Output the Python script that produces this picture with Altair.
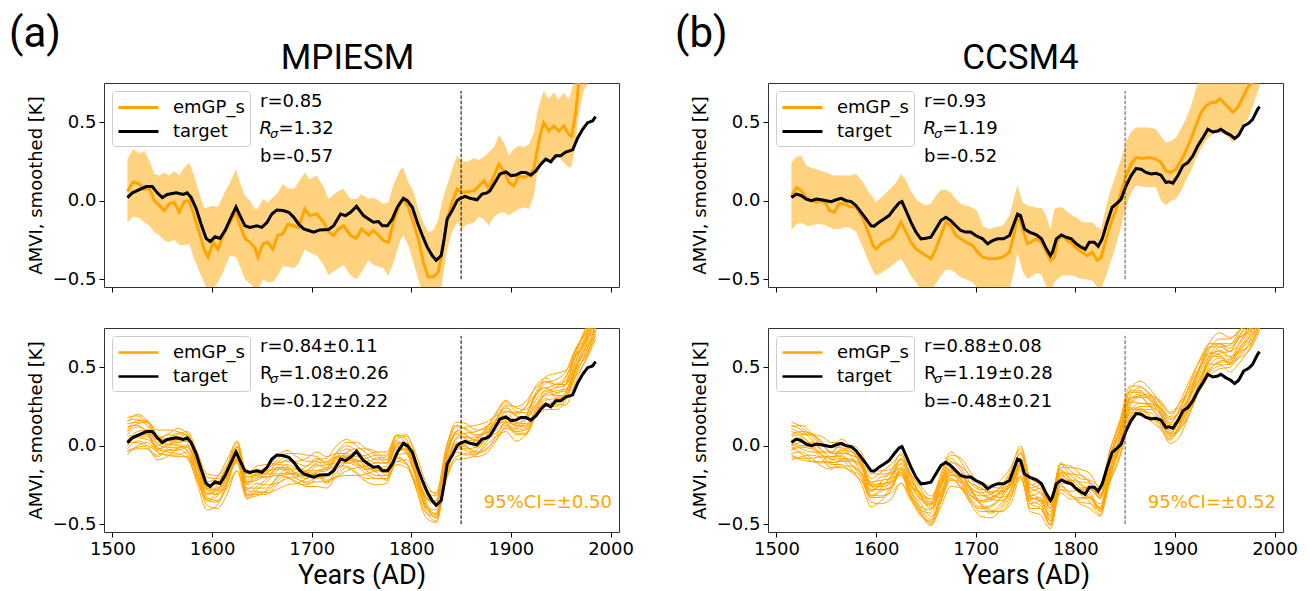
import altair as alt
import pandas as pd

# ---------------- axes / labels ----------------
XTICKS = [1500, 1600, 1700, 1800, 1900, 2000]
YTICKS = [-0.5, 0.0, 0.5]
XDOM = [1491.5, 2008.5]
YDOM = [-0.55, 0.75]
SERIES = ["emGP_s", "target"]
TITLES = ["MPIESM", "CCSM4"]
LETTERS = ["(a)", "(b)"]
VLINE_YEAR = [1850]
VLINE_LOW = [-0.5]
VLINE_HIGH = [0.7]

ORANGE = "#FFA500"

# ---------------- MPIESM target ----------------
mpi_tgt_yr = [
    1515, 1520, 1527, 1534, 1540, 1545, 1550, 1555, 1564, 1571,
    1575, 1579, 1584, 1589, 1594, 1598, 1603, 1608, 1613, 1618,
    1624, 1628, 1633, 1638, 1645, 1650, 1655, 1660, 1665, 1671,
    1677, 1682, 1687, 1692, 1697, 1702, 1708, 1717, 1722, 1729,
    1734, 1739, 1745, 1752, 1757, 1762, 1767, 1771, 1776, 1781,
    1786, 1792, 1796, 1801, 1806, 1811, 1816, 1821, 1825, 1830,
    1833, 1836, 1841, 1846, 1849, 1854, 1859, 1866, 1871, 1876,
    1879, 1884, 1889, 1895, 1900, 1905, 1910, 1915, 1920, 1925,
    1930, 1935, 1940, 1945, 1950, 1955, 1962, 1967, 1972, 1977,
    1982, 1985]
mpi_tgt_v = [
    0.02, 0.05, 0.07, 0.09, 0.09, 0.05, 0.02, 0.04, 0.05, 0.04,
    0.05, 0.02, -0.05, -0.15, -0.24, -0.26, -0.23, -0.24, -0.19, -0.12,
    -0.04, -0.095, -0.16, -0.17, -0.16, -0.17, -0.14, -0.085, -0.06, -0.063,
    -0.074, -0.106, -0.15, -0.18, -0.19, -0.2, -0.186, -0.184, -0.16, -0.085,
    -0.095, -0.074, -0.036, -0.095, -0.116, -0.137, -0.133, -0.16, -0.16, -0.116,
    -0.042, 0.015, 0.0, -0.042, -0.137, -0.22, -0.296, -0.35, -0.38, -0.35,
    -0.243, -0.116, -0.063, 0.0, 0.015, 0.028, 0.015, 0.006, 0.042, 0.05,
    0.063, 0.116, 0.17, 0.184, 0.16, 0.163, 0.18, 0.18, 0.163, 0.19,
    0.233, 0.265, 0.248, 0.286, 0.286, 0.31, 0.324, 0.4, 0.455, 0.497,
    0.508, 0.535]

# ---------------- MPIESM emulator mean and 95% band ----------------
mpi_emu_yr = [
    1515, 1521, 1527, 1532, 1537, 1542, 1547, 1552, 1557, 1562,
    1567, 1572, 1577, 1582, 1587, 1592, 1596, 1601, 1606, 1611,
    1618, 1624, 1628, 1633, 1638, 1643, 1646, 1651, 1656, 1661,
    1666, 1671, 1676, 1682, 1687, 1693, 1698, 1705, 1712, 1717,
    1722, 1727, 1732, 1739, 1745, 1750, 1757, 1762, 1767, 1772,
    1777, 1782, 1789, 1792, 1797, 1802, 1807, 1812, 1817, 1822,
    1827, 1831, 1836, 1841, 1846, 1851, 1856, 1863, 1868, 1873,
    1878, 1883, 1888, 1893, 1898, 1903, 1908, 1913, 1918, 1923,
    1926, 1930, 1933, 1938, 1943, 1948, 1953, 1958, 1961, 1965,
    1968, 1973, 1979, 1985]
mpi_emu_mean = [
    0.06, 0.12, 0.106, 0.074, 0.078, 0.0, -0.03, -0.063, -0.02, -0.01,
    -0.074, -0.006, 0.0, -0.095, -0.2, -0.31, -0.36, -0.265, -0.31, -0.22,
    -0.137, -0.074, -0.16, -0.24, -0.265, -0.3, -0.36, -0.275, -0.265, -0.31,
    -0.22, -0.21, -0.15, -0.16, -0.17, -0.053, -0.095, -0.085, -0.137, -0.2,
    -0.22, -0.18, -0.16, -0.22, -0.24, -0.18, -0.22, -0.19, -0.22, -0.254,
    -0.265, -0.137, -0.01, 0.01, -0.042, -0.137, -0.243, -0.39, -0.487, -0.487,
    -0.455, -0.33, -0.116, -0.01, 0.074, 0.053, 0.057, 0.063, 0.095, 0.127,
    0.074, 0.16, 0.233, 0.19, 0.116, 0.095, 0.16, 0.148, 0.16, 0.2,
    0.307, 0.434, 0.497, 0.444, 0.476, 0.444, 0.476, 0.423, 0.41, 0.56,
    0.75, 0.9, 1.0, 1.1]
mpi_emu_hi = [
    0.265, 0.33, 0.30, 0.32, 0.254, 0.17, 0.16, 0.18, 0.16, 0.19,
    0.16, 0.21, 0.243, 0.16, 0.053, -0.05, -0.04, -0.032, -0.04, 0.032,
    0.116, 0.2, 0.116, 0.032, 0.0, -0.053, -0.05, 0.01, -0.01, 0.02,
    0.053, 0.106, 0.08, 0.074, 0.12, 0.18, 0.137, 0.16, 0.085, 0.01,
    0.04, 0.063, 0.074, 0.01, 0.01, 0.042, 0.01, 0.02, 0.0, -0.02,
    -0.01, 0.1, 0.2, 0.21, 0.116, 0.063, -0.053, -0.137, -0.2, -0.19,
    -0.12, 0.0, 0.1, 0.2, 0.29, 0.25, 0.25, 0.27, 0.26, 0.28,
    0.31, 0.34, 0.42, 0.37, 0.29, 0.33, 0.35, 0.34, 0.36, 0.43,
    0.55, 0.645, 0.7, 0.65, 0.69, 0.645, 0.69, 0.645, 0.7, 0.85,
    0.95, 1.1, 1.2, 1.3]
mpi_emu_lo = [
    -0.137, -0.1, -0.11, -0.137, -0.16, -0.2, -0.22, -0.254, -0.265, -0.25,
    -0.28, -0.285, -0.275, -0.37, -0.45, -0.52, -0.58, -0.56, -0.52, -0.455,
    -0.35, -0.36, -0.42, -0.5, -0.53, -0.56, -0.58, -0.5, -0.52, -0.52,
    -0.476, -0.42, -0.42, -0.43, -0.4, -0.31, -0.33, -0.35, -0.41, -0.476,
    -0.45, -0.43, -0.41, -0.476, -0.5, -0.455, -0.38, -0.41, -0.42, -0.43,
    -0.476, -0.4, -0.25, -0.22, -0.285, -0.39, -0.5, -0.6, -0.7, -0.7,
    -0.65, -0.52, -0.31, -0.2, -0.137, -0.18, -0.15, -0.14, -0.1, -0.12,
    -0.16, -0.1, -0.08, -0.074, -0.095, -0.07, -0.053, -0.042, -0.053, 0.03,
    0.16, 0.23, 0.265, 0.243, 0.265, 0.275, 0.243, 0.21, 0.22, 0.37,
    0.55, 0.7, 0.76, 0.75]

# ---------------- CCSM4 target ----------------
ccsm_tgt_yr = [
    1515, 1520, 1525, 1530, 1535, 1540, 1545, 1550, 1555, 1560,
    1565, 1570, 1575, 1580, 1585, 1590, 1595, 1598, 1603, 1608,
    1613, 1618, 1623, 1626, 1630, 1635, 1640, 1645, 1650, 1655,
    1660, 1665, 1670, 1675, 1680, 1685, 1690, 1695, 1700, 1707,
    1712, 1717, 1722, 1728, 1734, 1739, 1742, 1745, 1749, 1754,
    1761, 1766, 1771, 1775, 1777, 1781, 1786, 1791, 1796, 1801,
    1806, 1810, 1814, 1819, 1823, 1827, 1832, 1837, 1842, 1846,
    1851, 1856, 1861, 1866, 1871, 1876, 1881, 1886, 1891, 1894,
    1898, 1903, 1908, 1913, 1918, 1923, 1928, 1933, 1938, 1943,
    1946, 1951, 1956, 1960, 1964, 1969, 1974, 1978, 1983, 1985]
ccsm_tgt_v = [
    0.021, 0.042, 0.032, 0.01, 0.0, 0.01, 0.006, 0.0, -0.006, 0.006,
    0.015, 0.0, -0.006, -0.032, -0.074, -0.116, -0.16, -0.163, -0.137, -0.116,
    -0.095, -0.053, -0.015, -0.006, -0.063, -0.137, -0.2, -0.243, -0.239, -0.233,
    -0.18, -0.127, -0.106, -0.127, -0.16, -0.19, -0.2, -0.2, -0.222, -0.243,
    -0.275, -0.254, -0.243, -0.243, -0.222, -0.137, -0.085, -0.095, -0.18, -0.2,
    -0.218, -0.243, -0.307, -0.35, -0.328, -0.243, -0.218, -0.233, -0.243, -0.275,
    -0.296, -0.31, -0.265, -0.265, -0.29, -0.243, -0.137, -0.042, -0.015, 0.01,
    0.095, 0.16, 0.205, 0.2, 0.18, 0.17, 0.175, 0.163, 0.116, 0.12,
    0.112, 0.16, 0.222, 0.243, 0.286, 0.35, 0.4, 0.455, 0.438, 0.444,
    0.455, 0.434, 0.417, 0.396, 0.417, 0.476, 0.493, 0.518, 0.582, 0.6]

# ---------------- CCSM4 emulator mean and 95% band ----------------
ccsm_emu_yr = [
    1515, 1520, 1525, 1530, 1535, 1540, 1545, 1550, 1553, 1558,
    1563, 1568, 1573, 1580, 1587, 1592, 1597, 1600, 1605, 1610,
    1615, 1620, 1625, 1630, 1635, 1640, 1645, 1650, 1655, 1660,
    1665, 1670, 1675, 1680, 1685, 1690, 1697, 1702, 1707, 1713,
    1720, 1727, 1734, 1739, 1742, 1747, 1752, 1761, 1766, 1771,
    1775, 1779, 1782, 1787, 1792, 1797, 1802, 1807, 1812, 1817,
    1822, 1826, 1831, 1836, 1841, 1846, 1851, 1856, 1861, 1867,
    1874, 1881, 1886, 1891, 1896, 1901, 1906, 1911, 1916, 1921,
    1926, 1931, 1936, 1941, 1945, 1949, 1954, 1958, 1963, 1968,
    1973, 1977, 1985]
ccsm_emu_mean = [
    0.028, 0.085, 0.063, 0.02, 0.0, -0.01, 0.0, -0.02, -0.063, -0.074,
    -0.02, -0.02, -0.036, -0.042, -0.116, -0.2, -0.285, -0.307, -0.275, -0.254,
    -0.243, -0.2, -0.137, -0.2, -0.265, -0.307, -0.328, -0.35, -0.37, -0.307,
    -0.222, -0.137, -0.16, -0.222, -0.243, -0.265, -0.285, -0.328, -0.36, -0.37,
    -0.37, -0.36, -0.328, -0.2, -0.085, -0.18, -0.275, -0.243, -0.265, -0.328,
    -0.38, -0.36, -0.254, -0.222, -0.254, -0.275, -0.307, -0.328, -0.35, -0.328,
    -0.38, -0.36, -0.243, -0.137, -0.053, 0.053, 0.16, 0.233, 0.275, 0.269,
    0.275, 0.265, 0.243, 0.19, 0.18, 0.2, 0.254, 0.317, 0.39, 0.476,
    0.56, 0.603, 0.624, 0.628, 0.65, 0.624, 0.593, 0.565, 0.593, 0.656,
    0.72, 0.75, 0.82]
ccsm_emu_hi = [
    0.243, 0.28, 0.286, 0.222, 0.21, 0.2, 0.19, 0.18, 0.17, 0.16,
    0.16, 0.16, 0.16, 0.17, 0.116, 0.06, 0.02, -0.01, 0.02, 0.05,
    0.08, 0.116, 0.17, 0.13, 0.06, 0.01, -0.015, -0.03, -0.02, 0.032,
    0.07, 0.07, 0.05, 0.01, -0.02, -0.03, -0.045, -0.07, -0.16, -0.18,
    -0.17, -0.16, -0.095, 0.03, 0.1, -0.01, -0.03, -0.045, -0.045, -0.1,
    -0.18, -0.053, -0.045, -0.042, -0.07, -0.095, -0.11, -0.137, -0.137, -0.137,
    -0.17, -0.18, -0.032, 0.08, 0.17, 0.265, 0.38, 0.44, 0.466, 0.466,
    0.466, 0.455, 0.41, 0.37, 0.38, 0.4, 0.46, 0.52, 0.6, 0.71,
    0.8, 0.85, 0.86, 0.86, 0.87, 0.85, 0.82, 0.8, 0.83, 0.9,
    0.95, 1.0, 1.05]
ccsm_emu_lo = [
    -0.19, -0.15, -0.14, -0.16, -0.16, -0.15, -0.15, -0.16, -0.17, -0.18,
    -0.18, -0.17, -0.17, -0.2, -0.3, -0.38, -0.45, -0.476, -0.46, -0.44,
    -0.42, -0.39, -0.37, -0.42, -0.48, -0.52, -0.57, -0.58, -0.58, -0.53,
    -0.48, -0.44, -0.44, -0.46, -0.49, -0.5, -0.52, -0.56, -0.6, -0.62,
    -0.62, -0.6, -0.57, -0.43, -0.33, -0.45, -0.5, -0.46, -0.47, -0.55,
    -0.6, -0.52, -0.5, -0.476, -0.476, -0.476, -0.49, -0.5, -0.5, -0.508,
    -0.55, -0.56, -0.476, -0.38, -0.28, -0.16, -0.04, 0.05, 0.095, 0.09,
    0.085, 0.085, 0.0, -0.03, 0.0, 0.01, 0.06, 0.13, 0.19, 0.265,
    0.33, 0.38, 0.413, 0.434, 0.43, 0.423, 0.4, 0.37, 0.42, 0.48,
    0.52, 0.58, 0.73]

# ---------------- ensemble members (bottom panels) ----------------
ens_yr = [1515, 1525, 1535, 1545, 1555, 1565, 1575, 1585, 1595, 1605,
          1615, 1625, 1635, 1645, 1655, 1665, 1675, 1685, 1695, 1705,
          1715, 1725, 1735, 1745, 1755, 1765, 1775, 1785, 1795, 1805,
          1815, 1825, 1835, 1845, 1855, 1865, 1875, 1885, 1895, 1905,
          1915, 1925, 1935, 1945, 1955, 1965, 1975, 1985]
# centre of the ensemble bundle
mpi_ens_centre = [0.06, 0.09, 0.07, 0.0, 0.01, 0.03, 0.02, -0.14, -0.3, -0.29,
                  -0.19, -0.06, -0.25, -0.22, -0.2, -0.16, -0.14, -0.16, -0.16, -0.14,
                  -0.16, -0.11, -0.08, -0.09, -0.11, -0.12, -0.14, -0.02, -0.03, -0.17,
                  -0.34, -0.39, -0.12, 0.03, 0.03, 0.02, 0.06, 0.13, 0.19, 0.15,
                  0.17, 0.28, 0.35, 0.34, 0.37, 0.53, 0.65, 0.8]
ccsm_ens_centre = [0.03, 0.02, -0.01, -0.04, -0.07, -0.04, -0.07, -0.14, -0.28, -0.26,
                   -0.22, -0.14, -0.26, -0.35, -0.4, -0.27, -0.15, -0.19, -0.27, -0.33,
                   -0.35, -0.33, -0.26, -0.11, -0.3, -0.31, -0.43, -0.2, -0.23, -0.26,
                   -0.28, -0.35, -0.13, 0.05, 0.27, 0.3, 0.27, 0.21, 0.115, 0.18,
                   0.31, 0.45, 0.57, 0.6, 0.58, 0.65, 0.72, 0.85]
# spread of each member about that centre, read from the bundles
ens_dev = [
    [0.10, 0.08, 0.05, 0.02, 0.00, -0.03, -0.05, -0.06, -0.04, -0.01, 0.03, 0.06, 0.08, 0.07, 0.04, 0.01,
     -0.02, -0.05, -0.07, -0.06, -0.03, 0.00, 0.04, 0.07, 0.09, 0.08, 0.05, 0.02, -0.01, -0.04, -0.06, -0.05,
     -0.02, 0.02, 0.05, 0.07, 0.06, 0.03, 0.00, -0.03, -0.05, -0.04, -0.01, 0.03, 0.06, 0.08, 0.07, 0.05],
    [-0.08, -0.06, -0.07, -0.09, -0.08, -0.05, -0.02, 0.01, 0.03, 0.02, -0.01, -0.04, -0.06, -0.08, -0.09, -0.07,
     -0.04, -0.02, 0.00, 0.02, 0.01, -0.02, -0.05, -0.08, -0.10, -0.09, -0.07, -0.06, -0.08, -0.10, -0.09, -0.06,
     -0.03, -0.01, -0.03, -0.06, -0.08, -0.09, -0.07, -0.05, -0.06, -0.08, -0.10, -0.09, -0.06, -0.04, -0.05, -0.07],
    [0.03, 0.05, 0.08, 0.10, 0.09, 0.06, 0.04, 0.05, 0.07, 0.09, 0.10, 0.08, 0.05, 0.03, 0.04, 0.07,
     0.09, 0.11, 0.10, 0.07, 0.05, 0.06, 0.08, 0.06, 0.03, 0.01, 0.03, 0.06, 0.09, 0.11, 0.10, 0.08,
     0.06, 0.04, 0.02, 0.03, 0.05, 0.08, 0.10, 0.09, 0.06, 0.04, 0.05, 0.08, 0.10, 0.09, 0.06, 0.04],
    [-0.02, -0.04, -0.03, 0.00, 0.03, 0.05, 0.04, 0.01, -0.03, -0.06, -0.08, -0.10, -0.09, -0.06, -0.03, 0.00,
     0.02, 0.01, -0.01, -0.04, -0.07, -0.09, -0.08, -0.05, -0.02, 0.01, 0.03, 0.04, 0.02, -0.01, -0.04, -0.07,
     -0.09, -0.10, -0.08, -0.05, -0.02, 0.00, 0.02, 0.00, -0.03, -0.06, -0.08, -0.07, -0.04, -0.02, -0.03, -0.05],
    [0.06, 0.04, 0.01, -0.02, -0.01, 0.02, 0.05, 0.08, 0.10, 0.08, 0.05, 0.02, 0.00, 0.01, 0.03, 0.02,
     -0.01, -0.03, -0.02, 0.01, 0.04, 0.07, 0.10, 0.11, 0.09, 0.06, 0.03, 0.00, -0.02, -0.01, 0.02, 0.04,
     0.07, 0.09, 0.08, 0.05, 0.02, -0.01, -0.03, -0.02, 0.01, 0.04, 0.06, 0.05, 0.02, 0.00, 0.03, 0.06],
    [-0.10, -0.11, -0.09, -0.06, -0.04, -0.05, -0.08, -0.10, -0.11, -0.09, -0.06, -0.03, -0.04, -0.07, -0.10, -0.12,
     -0.11, -0.08, -0.05, -0.04, -0.06, -0.09, -0.11, -0.10, -0.07, -0.04, -0.03, -0.05, -0.08, -0.11, -0.12, -0.10,
     -0.07, -0.05, -0.06, -0.09, -0.11, -0.10, -0.08, -0.06, -0.07, -0.10, -0.12, -0.11, -0.08, -0.06, -0.08, -0.10],
    [0.01, 0.03, 0.02, -0.01, -0.04, -0.06, -0.03, 0.00, 0.02, 0.00, -0.02, 0.00, 0.03, 0.05, 0.06, 0.04,
     0.01, -0.02, -0.04, -0.03, 0.00, 0.02, 0.01, -0.02, -0.05, -0.07, -0.05, -0.02, 0.01, 0.03, 0.04, 0.02,
     -0.01, -0.04, -0.05, -0.03, 0.00, 0.03, 0.05, 0.04, 0.01, -0.02, -0.03, -0.01, 0.02, 0.04, 0.02, -0.01],
    [0.12, 0.10, 0.07, 0.05, 0.06, 0.08, 0.06, 0.03, 0.00, -0.02, 0.00, 0.03, 0.05, 0.04, 0.06, 0.09,
     0.11, 0.09, 0.06, 0.04, 0.02, 0.03, 0.01, -0.01, 0.01, 0.04, 0.07, 0.09, 0.07, 0.05, 0.06, 0.09,
     0.11, 0.10, 0.07, 0.04, 0.02, 0.04, 0.07, 0.10, 0.11, 0.09, 0.06, 0.03, 0.02, 0.05, 0.09, 0.11],
    [-0.05, -0.02, 0.00, -0.02, -0.05, -0.08, -0.10, -0.08, -0.05, -0.03, -0.04, -0.02, 0.01, 0.02, 0.00, -0.03,
     -0.06, -0.08, -0.09, -0.07, -0.04, -0.01, 0.01, 0.00, -0.03, -0.04, -0.02, 0.01, 0.00, -0.03, -0.05, -0.04,
     -0.01, 0.01, 0.03, 0.01, -0.02, -0.05, -0.06, -0.04, -0.01, 0.01, 0.00, -0.03, -0.06, -0.08, -0.06, -0.03],
    [-0.04, -0.07, -0.09, -0.07, -0.03, 0.01, 0.03, 0.02, 0.04, 0.06, 0.04, 0.00, -0.03, -0.02, -0.05, -0.08,
     -0.07, -0.04, 0.00, 0.03, 0.06, 0.04, 0.00, -0.03, -0.04, -0.02, -0.05, -0.08, -0.06, -0.02, 0.01, 0.03,
     0.02, -0.02, 0.00, 0.02, 0.04, 0.01, -0.04, -0.07, -0.09, -0.06, -0.02, 0.01, -0.01, -0.04, -0.02, 0.02],
    [0.08, 0.06, 0.08, 0.07, 0.03, 0.00, 0.01, 0.04, 0.03, 0.01, 0.02, 0.05, 0.07, 0.09, 0.08, 0.05,
     0.04, 0.06, 0.08, 0.10, 0.09, 0.06, 0.03, 0.02, 0.05, 0.08, 0.10, 0.08, 0.04, 0.01, 0.00, 0.02,
     0.04, 0.06, 0.09, 0.11, 0.09, 0.06, 0.03, 0.05, 0.08, 0.10, 0.08, 0.05, 0.04, 0.06, 0.04, 0.02],
    [-0.12, -0.09, -0.05, -0.04, -0.07, -0.10, -0.09, -0.06, -0.08, -0.11, -0.12, -0.10, -0.07, -0.09, -0.11, -0.09,
     -0.06, -0.07, -0.10, -0.12, -0.11, -0.08, -0.06, -0.09, -0.12, -0.13, -0.10, -0.08, -0.09, -0.07, -0.05, -0.07,
     -0.10, -0.12, -0.11, -0.08, -0.06, -0.07, -0.10, -0.12, -0.10, -0.07, -0.05, -0.08, -0.11, -0.12, -0.10, -0.09],
    [0.04, 0.07, 0.09, 0.06, 0.02, -0.01, 0.01, 0.04, 0.02, -0.02, -0.05, -0.03, 0.01, 0.04, 0.02, -0.02,
     -0.04, -0.01, 0.03, 0.06, 0.04, 0.00, -0.03, -0.01, 0.03, 0.06, 0.08, 0.05, 0.01, -0.02, 0.00, 0.04,
     0.07, 0.05, 0.01, -0.03, -0.01, 0.03, 0.06, 0.04, 0.00, -0.02, 0.01, 0.05, 0.07, 0.04, 0.01, 0.03],
    [-0.06, -0.03, -0.01, -0.04, -0.07, -0.09, -0.06, -0.03, -0.05, -0.07, -0.04, -0.01, -0.02, -0.05, -0.07, -0.04,
     -0.01, 0.01, -0.02, -0.05, -0.08, -0.06, -0.03, -0.04, -0.07, -0.09, -0.07, -0.04, -0.02, -0.05, -0.08, -0.09,
     -0.06, -0.03, -0.04, -0.07, -0.09, -0.07, -0.04, -0.02, -0.04, -0.07, -0.09, -0.06, -0.03, -0.05, -0.08, -0.06],
    [0.00, -0.02, 0.01, 0.04, 0.06, 0.03, 0.00, -0.03, -0.01, 0.03, 0.06, 0.09, 0.07, 0.03, 0.00, 0.02,
     0.05, 0.03, 0.00, -0.02, 0.01, 0.04, 0.06, 0.03, 0.00, -0.03, -0.01, 0.02, 0.05, 0.07, 0.04, 0.01,
     0.03, 0.06, 0.04, 0.01, -0.02, 0.00, 0.03, 0.06, 0.08, 0.05, 0.02, 0.00, -0.02, 0.01, 0.05, 0.08],
    [-0.09, -0.10, -0.07, -0.03, 0.00, -0.02, -0.05, -0.04, -0.01, 0.01, -0.01, -0.05, -0.08, -0.10, -0.08, -0.05,
     -0.03, -0.05, -0.08, -0.09, -0.07, -0.04, -0.02, 0.00, -0.02, -0.05, -0.08, -0.10, -0.11, -0.08, -0.05, -0.02,
     -0.04, -0.07, -0.09, -0.07, -0.04, -0.03, -0.05, -0.08, -0.10, -0.09, -0.06, -0.04, -0.06, -0.09, -0.11, -0.12],
    [0.09, 0.11, 0.09, 0.05, 0.03, 0.04, 0.07, 0.10, 0.12, 0.10, 0.07, 0.05, 0.02, 0.00, 0.02, 0.05,
     0.07, 0.05, 0.03, 0.05, 0.08, 0.11, 0.12, 0.09, 0.06, 0.03, 0.05, 0.08, 0.10, 0.08, 0.05, 0.07,
     0.10, 0.12, 0.11, 0.08, 0.05, 0.07, 0.09, 0.07, 0.04, 0.06, 0.09, 0.12, 0.11, 0.08, 0.10, 0.12],
    [-0.03, 0.00, 0.03, 0.01, -0.02, -0.04, -0.02, 0.02, 0.05, 0.04, 0.01, -0.03, -0.06, -0.04, -0.01, 0.02,
     0.00, -0.03, -0.05, -0.02, 0.02, 0.04, 0.02, -0.01, -0.04, -0.02, 0.01, 0.03, 0.05, 0.02, -0.02, -0.05,
     -0.07, -0.05, -0.02, 0.01, 0.03, 0.01, -0.02, -0.01, 0.02, 0.04, 0.02, -0.02, -0.05, -0.03, 0.00, -0.04],
]

# ---------------- annotation texts ----------------
mpi_top_stats = ["r=0.85", "=1.32", "b=-0.57"]
ccsm_top_stats = ["r=0.93", "=1.19", "b=-0.52"]
mpi_bot_stats = ["r=0.84\u00b10.11", "=1.08\u00b10.26", "b=-0.12\u00b10.22"]
ccsm_bot_stats = ["r=0.88\u00b10.08", "=1.19\u00b10.28", "b=-0.48\u00b10.21"]
ci_texts = ["95%CI=\u00b10.50", "95%CI=\u00b10.52"]

for a, b in [(mpi_tgt_yr, mpi_tgt_v), (ccsm_tgt_yr, ccsm_tgt_v)]:
    assert len(a) == len(b), (len(a), len(b))
for a in [mpi_emu_mean, mpi_emu_hi, mpi_emu_lo]:
    assert len(a) == len(mpi_emu_yr), len(a)
for a in [ccsm_emu_mean, ccsm_emu_hi, ccsm_emu_lo]:
    assert len(a) == len(ccsm_emu_yr), len(a)
for a in ens_dev + [mpi_ens_centre, ccsm_ens_centre]:
    assert len(a) == len(ens_yr), len(a)

W, H = 515, 204


def xenc(labels):
    return alt.X("year:Q", scale=alt.Scale(domain=XDOM, nice=False, zero=False),
                 axis=alt.Axis(values=XTICKS, format="d", labels=labels, labelFlush=False,
                               title="Years (AD)" if labels else None,
                               titleFont="Roboto", titleFontSize=27, titlePadding=4,
                               labelPadding=3))


def yenc(field):
    return alt.Y(f"{field}:Q", scale=alt.Scale(domain=YDOM, nice=False, zero=False),
                 axis=alt.Axis(values=YTICKS, format=".1f", title="AMVI, smoothed [K]",
                               titlePadding=7, labelPadding=3))


def cenc(sym_w):
    return alt.Color("series:N", scale=alt.Scale(domain=SERIES, range=[ORANGE, "black"]),
                     legend=alt.Legend(title=None, orient="top-left", offset=8,
                                       symbolType="M-1,0H3", symbolSize=400,
                                       symbolStrokeWidth=sym_w, labelOffset=33,
                                       labelFont="DejaVu Sans", labelFontSize=18,
                                       labelColor="black", padding=5, rowPadding=3,
                                       cornerRadius=3, strokeColor="#cccccc",
                                       fillColor="rgba(255,255,255,0.8)"))


def txt(s, x, y, size=18, color="black", font="DejaVu Sans", style="normal", align="left"):
    return alt.Chart(alt.Data(values=[{"t": s}])).mark_text(
        align=align, baseline="alphabetic", font=font, fontSize=size,
        fontStyle=style, color=color).encode(text="t:N", x=alt.value(x), y=alt.value(y))


def stats_layers(stats, italic_r):
    st = "italic" if italic_r else "normal"
    return [
        txt(stats[0], 156, 23.5),
        txt("R", 155.5 if italic_r else 156, 51.3, style=st),
        txt("\u03c3", 166, 54.5, size=13, style="italic"),
        txt(stats[1], 174.5, 51.3),
        txt(stats[2], 156, 79),
    ]


def vline(color, labels):
    df = pd.DataFrame({"year": VLINE_YEAR, "lo": VLINE_LOW, "hi": VLINE_HIGH})
    return alt.Chart(df).mark_rule(color=color, strokeWidth=1, strokeDash=[3.7, 1.6]).encode(
        x=xenc(labels), y=yenc("lo"), y2="hi:Q")


def top_panel(i, tgt_yr, tgt_v, emu_yr, emu_m, emu_hi, emu_lo, stats, dash_color, title_dx, letter_x):
    tgt = pd.DataFrame({"year": tgt_yr, "v": tgt_v, "series": SERIES[1]})
    emu = pd.DataFrame({"year": emu_yr, "v": emu_m, "lo": emu_lo, "hi": emu_hi, "series": SERIES[0]})
    band = alt.Chart(emu).mark_area(color=ORANGE, opacity=0.5, clip=True).encode(
        x=xenc(False), y=yenc("lo"), y2="hi:Q")
    mean = alt.Chart(emu).mark_line(strokeWidth=3, clip=True).encode(
        x=xenc(False), y=yenc("v"), color=cenc(3))
    target = alt.Chart(tgt).mark_line(strokeWidth=3, clip=True).encode(
        x=xenc(False), y=yenc("v"), color=cenc(3))
    layers = [band, mean, target, vline(dash_color, False)] + stats_layers(stats, True)
    layers.append(txt(LETTERS[i], letter_x, -36, size=42, font="Roboto"))
    layers.append(txt(TITLES[i], W / 2 + title_dx, -14, size=35, font="Roboto", align="center"))
    return alt.layer(*layers).properties(width=W, height=H)


def bottom_panel(i, tgt_yr, tgt_v, centre, stats, dash_color):
    tgt = pd.DataFrame({"year": tgt_yr, "v": tgt_v, "series": SERIES[1]})
    rows = []
    for k, dev in enumerate(ens_dev):
        for yr, c, d in zip(ens_yr, centre, dev):
            rows.append({"year": yr, "v": round(c + d, 3), "member": k, "series": SERIES[0]})
    ens = pd.DataFrame(rows)
    members = alt.Chart(ens).mark_line(strokeWidth=1, clip=True, interpolate="monotone").encode(
        x=xenc(True), y=yenc("v"), color=cenc(2.5), detail="member:N")
    target = alt.Chart(tgt).mark_line(strokeWidth=3, clip=True).encode(
        x=xenc(True), y=yenc("v"), color=cenc(2.5))
    layers = [members, target, vline(dash_color, True)] + stats_layers(stats, False)
    layers.append(txt(ci_texts[i], W - 7, 179.7, color=ORANGE, align="right"))
    return alt.layer(*layers).properties(width=W, height=H)


ta = top_panel(0, mpi_tgt_yr, mpi_tgt_v, mpi_emu_yr, mpi_emu_mean, mpi_emu_hi, mpi_emu_lo,
               mpi_top_stats, "black", -14, -95)
tb = top_panel(1, ccsm_tgt_yr, ccsm_tgt_v, ccsm_emu_yr, ccsm_emu_mean, ccsm_emu_hi, ccsm_emu_lo,
               ccsm_top_stats, "#555555", -5, -93)
ba = bottom_panel(0, mpi_tgt_yr, mpi_tgt_v, mpi_ens_centre, mpi_bot_stats, "black")
bb = bottom_panel(1, ccsm_tgt_yr, ccsm_tgt_v, ccsm_ens_centre, ccsm_bot_stats, "#555555")

chart = alt.concat(ta, tb, ba, bb, columns=2, spacing={"row": 41, "column": 149}, bounds="flush")
chart = chart.resolve_scale(color="independent", x="independent", y="independent")
chart = chart.resolve_legend(color="independent")
chart = chart.properties(padding={"left": 0, "top": 4, "right": 0, "bottom": 0})
chart = chart.configure_view(stroke="#333333", strokeWidth=1).configure_axis(
    labelFont="DejaVu Sans", labelFontSize=18, labelColor="black", tickColor="black",
    tickSize=5, tickWidth=1, domain=False, grid=False, titleFont="DejaVu Sans",
    titleFontSize=18, titleFontWeight="normal", titleColor="black")

chart.save("out.html", embed_options={"renderer": "svg", "actions": False})
